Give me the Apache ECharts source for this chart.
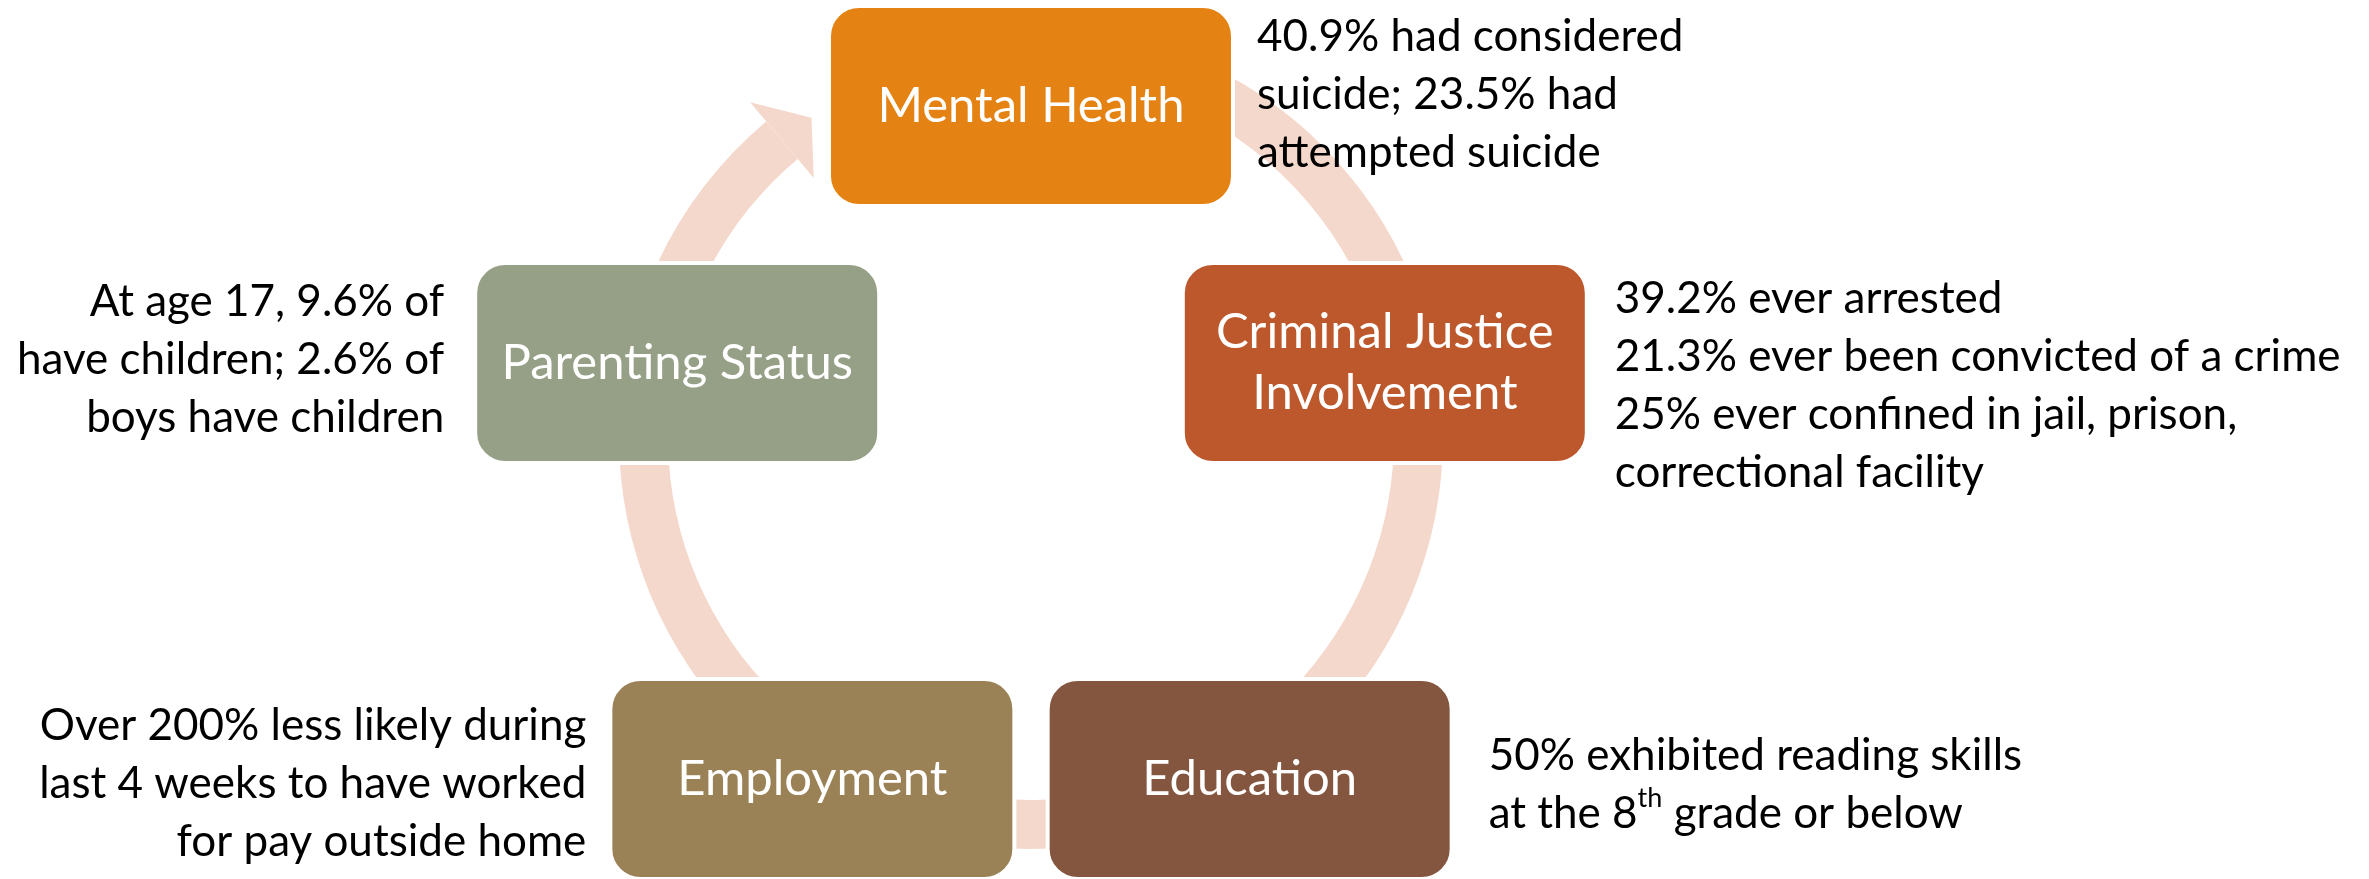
<!DOCTYPE html>
<html>
<head>
<meta charset="utf-8">
<title>Cycle</title>
<script src="https://cdn.jsdelivr.net/npm/echarts@6/dist/echarts.min.js"></script>
<style>
  html, body { margin: 0; padding: 0; background: #fff; }
  #chart { width: 2369px; height: 879px; }
</style>
</head>
<body>
<div id="chart"></div>
<script>
// stages of the cycle, clockwise from the top
const stages = ['Mental Health', 'Criminal Justice\nInvolvement', 'Education', 'Employment', 'Parenting Status'];
const notes = [
  ['40.9% had considered', 'suicide; 23.5% had', 'attempted suicide'],
  ['39.2% ever arrested', '21.3% ever been convicted of a crime', '25% ever confined in jail, prison,', 'correctional facility'],
  ['50% exhibited reading skills', 'at the 8{sup|th} grade or below'],
  ['Over 200% less likely during', 'last 4 weeks to have worked', 'for pay outside home'],
  ['At age 17, 9.6% of', 'have children; 2.6% of', 'boys have children']
];

// styling / layout
const boxColors = ['#E48313', '#BD582C', '#845640', '#9B8256', '#95A086'];
const noteSide = ['right', 'right', 'right', 'left', 'left'];
const noteGap = [24, 28, 37, 24, 31];
const noteShift = [-11, 23, 6, 5, -3];
const RING = '#F5D8CC';
const FONT = 'Lato, "Noto Sans", sans-serif';
const BOX_W = 404, BOX_H = 200;
const RING_IN = 363, RING_OUT = 412, BARB = 25;
const ringSpan = [0, 320];   // degrees clockwise from top, arrow base at the end
const arrowTip = 325.5;

const chart = echarts.init(document.getElementById('chart'));

function renderBox(params, api) {
  const i = params.dataIndex;
  const p = api.coord([api.value(0), api.value(1)]);
  const x = p[0] - BOX_W / 2;
  const y = p[1] - BOX_H / 2;
  const left = noteSide[i] === 'left';
  return {
    type: 'group',
    children: [
      {
        type: 'rect',
        shape: { x: x, y: y, width: BOX_W, height: BOX_H, r: 30 },
        style: { fill: boxColors[i], stroke: '#fff', lineWidth: 4 }
      },
      {
        type: 'text',
        style: {
          text: stages[i], x: p[0], y: p[1], align: 'center', verticalAlign: 'middle',
          fill: '#fff', fontSize: 49, fontFamily: FONT, lineHeight: 61
        }
      },
      {
        type: 'text',
        style: {
          text: notes[i].join('\n'),
          x: left ? x - noteGap[i] : x + BOX_W + noteGap[i],
          y: p[1] + noteShift[i],
          align: left ? 'right' : 'left', verticalAlign: 'middle',
          fill: '#000', fontSize: 44, fontFamily: FONT, lineHeight: 58,
          rich: {
            sup: { fontSize: 27, fontFamily: FONT, lineHeight: 34, verticalAlign: 'top', fill: '#000' }
          }
        }
      }
    ]
  };
}

function renderRing(params, api) {
  const cs = params.coordSys;
  const rad = d => (d - 90) * Math.PI / 180;
  const mid = (RING_IN + RING_OUT) / 2;
  return {
    type: 'group',
    children: [
      {
        type: 'sector',
        shape: {
          cx: cs.cx, cy: cs.cy, r0: RING_IN, r: RING_OUT,
          startAngle: rad(ringSpan[0]), endAngle: rad(ringSpan[1]), clockwise: true
        },
        style: { fill: RING }
      },
      {
        type: 'polygon',
        shape: {
          points: [
            api.coord([RING_OUT + BARB, ringSpan[1]]),
            api.coord([mid, arrowTip]),
            api.coord([RING_IN - BARB, ringSpan[1]])
          ]
        },
        style: { fill: RING }
      }
    ]
  };
}

const hidden = { axisLine: { show: false }, axisTick: { show: false }, axisLabel: { show: false }, splitLine: { show: false } };

const option = {
  backgroundColor: '#fff',
  animation: false,
  polar: [
    { center: [1031, 478], radius: 372 },
    { center: [1031, 437], radius: RING_OUT }
  ],
  angleAxis: [
    Object.assign({ polarIndex: 0, type: 'category', data: stages, boundaryGap: false, startAngle: 90, clockwise: true }, hidden),
    Object.assign({ polarIndex: 1, type: 'value', min: 0, max: 360, startAngle: 90, clockwise: true }, hidden)
  ],
  radiusAxis: [
    Object.assign({ polarIndex: 0, type: 'value', min: 0, max: 1 }, hidden),
    Object.assign({ polarIndex: 1, type: 'value', min: 0, max: RING_OUT }, hidden)
  ],
  series: [
    {
      type: 'custom',
      coordinateSystem: 'polar',
      polarIndex: 1,
      silent: true,
      z: 1,
      data: [[RING_OUT, ringSpan[1]]],
      renderItem: renderRing
    },
    {
      type: 'custom',
      coordinateSystem: 'polar',
      polarIndex: 0,
      silent: true,
      z: 2,
      data: stages.map(s => [1, s]),
      renderItem: renderBox
    }
  ]
};

chart.setOption(option);
window.addEventListener('resize', () => chart.resize());
</script>
</body>
</html>
